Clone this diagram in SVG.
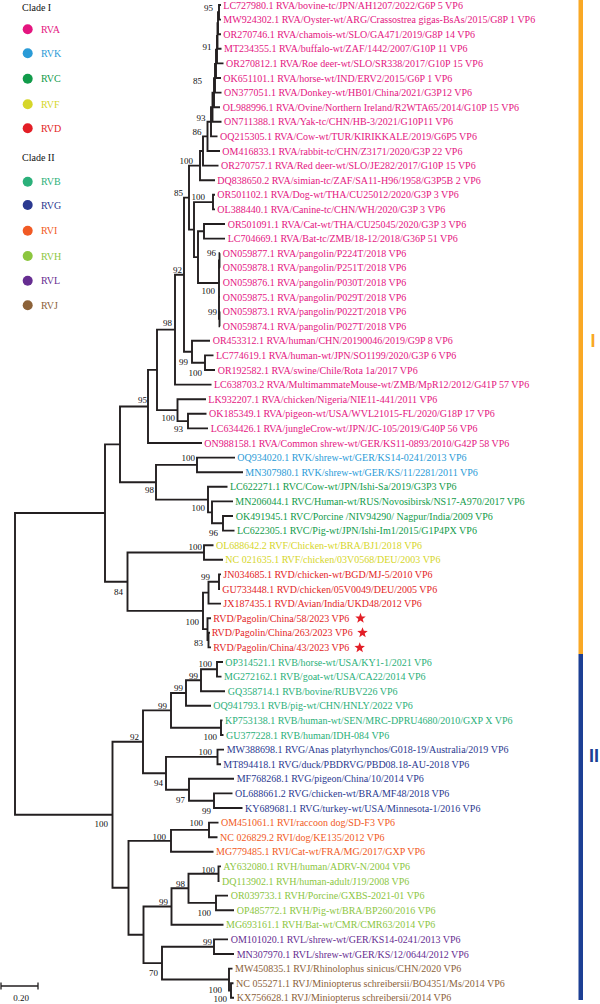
<svg xmlns="http://www.w3.org/2000/svg" width="600" height="1004" viewBox="0 0 600 1004">
<style>
.t{font-family:"Liberation Serif","Times New Roman",serif;font-size:10px}
.bs{font-family:"Liberation Serif","Times New Roman",serif;font-size:9px;fill:#111;text-anchor:end}
.lg{font-family:"Liberation Serif","Times New Roman",serif;font-size:10px}
.br{fill:none;stroke:#231f20;stroke-width:1.9;stroke-linejoin:miter}
.A{fill:#e4157f}.K{fill:#2a9bd7}.C{fill:#119b4a}.F{fill:#d6d62a}.D{fill:#e31e26}
.B{fill:#2bb07a}.G{fill:#2b3990}.I{fill:#f15a24}.H{fill:#8cc63f}.L{fill:#662d91}.J{fill:#8c6239}
</style>
<defs>
<path id="star" d="M0,-5.5 L1.35,-1.86 L5.23,-1.7 L2.19,0.71 L3.23,4.45 L0,2.3 L-3.23,4.45 L-2.19,0.71 L-5.23,-1.7 L-1.35,-1.86 Z" fill="#e31e26"/>
</defs>
<rect width="600" height="1004" fill="#fff"/>
<g id="legend">
<text class="lg" x="22" y="11" fill="#111">Clade I</text>
<circle class="A" cx="27.7" cy="29.3" r="5"/><text class="lg A" x="41" y="32.8">RVA</text>
<circle class="K" cx="27.7" cy="53.3" r="5"/><text class="lg K" x="41" y="56.8">RVK</text>
<circle class="C" cx="27.7" cy="78.7" r="5"/><text class="lg C" x="41" y="82.2">RVC</text>
<circle class="F" cx="27.7" cy="104.3" r="5"/><text class="lg F" x="41" y="107.8">RVF</text>
<circle class="D" cx="27.7" cy="128.3" r="5"/><text class="lg D" x="41" y="131.8">RVD</text>
<text class="lg" x="22" y="161.2" fill="#111">Clade II</text>
<circle class="B" cx="27.7" cy="181.7" r="5"/><text class="lg B" x="41" y="185.2">RVB</text>
<circle class="G" cx="27.7" cy="205" r="5"/><text class="lg G" x="41" y="208.5">RVG</text>
<circle class="I" cx="27.7" cy="230.7" r="5"/><text class="lg I" x="41" y="234.2">RVI</text>
<circle class="H" cx="27.7" cy="256" r="5"/><text class="lg H" x="41" y="259.5">RVH</text>
<circle class="L" cx="27.7" cy="280.7" r="5"/><text class="lg L" x="41" y="284.2">RVL</text>
<circle class="J" cx="27.7" cy="305.3" r="5"/><text class="lg J" x="41" y="308.8">RVJ</text>
</g>
<g id="connectors" class="br">
<path d="M221,5 H219 V19.6 H221"/>
<path d="M219,12.3 H218 V34.2 H221"/>
<path d="M218,23.25 H217.5 V48.8 H221.5"/>
<path d="M217.5,36 H217 V63.4 H223.5"/>
<path d="M217,49.7 H216 V78 H221"/>
<path d="M216,63.85 H215 V92.6 H221.5"/>
<path d="M215,78.2 H214 V107.2 H220"/>
<path d="M214,92.7 H212.5 V121.8 H221.5"/>
<path d="M212.5,107.25 H211 V136.4 H217.5"/>
<path d="M211,121.8 H207.5 V151 H220"/>
<path d="M207.5,136.4 H203 V165.6 H218.5"/>
<path d="M203,151 H200 V180.2 H215"/>
<path d="M215,194.8 H213 V209.4 H215"/>
<path d="M225,224 H204 V238.6 H225"/>
<path d="M220,253.2 H219.5 V267.8 H220"/>
<path d="M220,311.6 H219.5 V326.2 H220"/>
<path d="M219.5,260.5 H219 V318.9 H219.5 M219,282.4 H220 M219,297 H220"/>
<path d="M204,231.3 H198 V283 H219"/>
<path d="M213,202.1 H194 V257.15 H198"/>
<path d="M200,165.6 H189 V229.6 H194"/>
<path d="M213.5,355.4 H205 V370 H215"/>
<path d="M210,340.8 H192 V362.7 H205"/>
<path d="M189,197.6 H184 V351.75 H192"/>
<path d="M184,274.7 H175 V384.6 H211.5"/>
<path d="M206.5,413.8 H188 V428.4 H208"/>
<path d="M206,399.2 H177.5 V421.1 H188"/>
<path d="M175,329.65 H157 V410.15 H177.5"/>
<path d="M157,369.9 H148 V443 H202"/>
<path d="M235,457.6 H197 V472.2 H243"/>
<path d="M233,516 H223 V530.6 H234.5"/>
<path d="M233,501.4 H212 V523.3 H223"/>
<path d="M227.5,486.8 H208 V512.35 H212"/>
<path d="M197,464.9 H156 V499.6 H208"/>
<path d="M148,406.45 H120 V482.25 H156"/>
<path d="M213.5,545.2 H204 V559.8 H223"/>
<path d="M221,574.4 H219 V589 H220"/>
<path d="M219,581.7 H208.5 V603.6 H221"/>
<path d="M210,632.8 H208.5 V647.4 H211"/>
<path d="M211,618.2 H207.5 V640.1 H208.5"/>
<path d="M208.5,592.65 H203 V629.15 H207.5"/>
<path d="M204,552.5 H127.5 V610.9 H203"/>
<path d="M120,444.35 H105 V581.7 H127.5"/>
<path d="M105,513 H15 V814.8 H112.5"/>
<path d="M223,662 H217 V676.6 H221.5"/>
<path d="M217,669.3 H201 V691.2 H225"/>
<path d="M201,680.25 H186 V705.8 H211"/>
<path d="M222.5,720.4 H221 V735 H223.5"/>
<path d="M186,693 H171 V727.7 H221"/>
<path d="M224,749.6 H217.5 V764.2 H221"/>
<path d="M232.5,793.4 H214 V808 H242.5"/>
<path d="M234,778.8 H189 V800.7 H214"/>
<path d="M217.5,756.9 H166 V789.75 H189"/>
<path d="M171,710.35 H143 V773.3 H166"/>
<path d="M218.5,822.6 H209 V837.2 H217.5"/>
<path d="M209,829.9 H171 V851.8 H213.5"/>
<path d="M221,866.4 H218.5 V881 H219.5"/>
<path d="M228,895.6 H216 V910.2 H234"/>
<path d="M218.5,873.7 H188.5 V902.9 H216"/>
<path d="M188.5,888.3 H171.5 V924.8 H223.5"/>
<path d="M228,939.4 H214 V954 H234"/>
<path d="M233.5,983.2 H231 V997.8 H234"/>
<path d="M232.5,968.6 H229 V990.5 H231"/>
<path d="M214,946.7 H162 V979.55 H229"/>
<path d="M171.5,906.55 H143.5 V963.1 H162"/>
<path d="M171,840.85 H128.5 V934.8 H143.5"/>
<path d="M143,741.8 H112.5 V887.8 H128.5"/>
</g>
<g id="support">
<text class="bs" x="213" y="11">95</text>
<text class="bs" x="211.5" y="50">91</text>
<text class="bs" x="202" y="84">85</text>
<text class="bs" x="205.5" y="121">93</text>
<text class="bs" x="201.5" y="135">86</text>
<text class="bs" x="193" y="164">100</text>
<text class="bs" x="183" y="196">85</text>
<text class="bs" x="205" y="200">100</text>
<text class="bs" x="216" y="256">96</text>
<text class="bs" x="215" y="294">100</text>
<text class="bs" x="217" y="315">99</text>
<text class="bs" x="182" y="273">92</text>
<text class="bs" x="172" y="326">98</text>
<text class="bs" x="188" y="365">99</text>
<text class="bs" x="202" y="376">100</text>
<text class="bs" x="147" y="403">95</text>
<text class="bs" x="175" y="421">100</text>
<text class="bs" x="183" y="432">93</text>
<text class="bs" x="195" y="461">100</text>
<text class="bs" x="154" y="493">98</text>
<text class="bs" x="205" y="511">100</text>
<text class="bs" x="218" y="536">96</text>
<text class="bs" x="202" y="550">100</text>
<text class="bs" x="210" y="580">99</text>
<text class="bs" x="199" y="625">100</text>
<text class="bs" x="203" y="646">83</text>
<text class="bs" x="123" y="595">84</text>
<text class="bs" x="108" y="827">100</text>
<text class="bs" x="139" y="740">92</text>
<text class="bs" x="167" y="709">99</text>
<text class="bs" x="183" y="691">99</text>
<text class="bs" x="198" y="679">99</text>
<text class="bs" x="212" y="667">100</text>
<text class="bs" x="217" y="740">100</text>
<text class="bs" x="212" y="755">100</text>
<text class="bs" x="163" y="786">94</text>
<text class="bs" x="185" y="803">97</text>
<text class="bs" x="211" y="814">99</text>
<text class="bs" x="203" y="826">100</text>
<text class="bs" x="166" y="840">100</text>
<text class="bs" x="215" y="873">100</text>
<text class="bs" x="185" y="887">98</text>
<text class="bs" x="211" y="916">100</text>
<text class="bs" x="168" y="905">99</text>
<text class="bs" x="212" y="945">99</text>
<text class="bs" x="158" y="976">70</text>
<text class="bs" x="222" y="993">100</text>
<text class="bs" x="227" y="1002">100</text>
</g>
<g id="leaves" class="t">
<g id="n01"><text class="A" x="223.3" y="8.5">LC727980.1 RVA/bovine-tc/JPN/AH1207/2022/G6P 5 VP6</text></g>
<g id="n02"><text class="A" x="223.3" y="23.1">MW924302.1 RVA/Oyster-wt/ARG/Crassostrea gigas-BsAs/2015/G8P 1 VP6</text></g>
<g id="n03"><text class="A" x="223.3" y="37.7">OR270746.1 RVA/chamois-wt/SLO/GA471/2019/G8P 14 VP6</text></g>
<g id="n04"><text class="A" x="224" y="52.3">MT234355.1 RVA/buffalo-wt/ZAF/1442/2007/G10P 11 VP6</text></g>
<g id="n05"><text class="A" x="226" y="66.9">OR270812.1 RVA/Roe deer-wt/SLO/SR338/2017/G10P 15 VP6</text></g>
<g id="n06"><text class="A" x="223.3" y="81.5">OK651101.1 RVA/horse-wt/IND/ERV2/2015/G6P 1 VP6</text></g>
<g id="n07"><text class="A" x="224" y="96.1">ON377051.1 RVA/Donkey-wt/HB01/China/2021/G3P12 VP6</text></g>
<g id="n08"><text class="A" x="222.7" y="110.7">OL988996.1 RVA/Ovine/Northern Ireland/R2WTA65/2014/G10P 15 VP6</text></g>
<g id="n09"><text class="A" x="224" y="125.3">ON711388.1 RVA/Yak-tc/CHN/HB-3/2021/G10P11 VP6</text></g>
<g id="n10"><text class="A" x="220" y="139.9">OQ215305.1 RVA/Cow-wt/TUR/KIRIKKALE/2019/G6P5 VP6</text></g>
<g id="n11"><text class="A" x="222.3" y="154.5">OM416833.1 RVA/rabbit-tc/CHN/Z3171/2020/G3P 22 VP6</text></g>
<g id="n12"><text class="A" x="221" y="169.1">OR270757.1 RVA/Red deer-wt/SLO/JE282/2017/G10P 15 VP6</text></g>
<g id="n13"><text class="A" x="217.3" y="183.7">DQ838650.2 RVA/simian-tc/ZAF/SA11-H96/1958/G3P5B 2 VP6</text></g>
<g id="n14"><text class="A" x="217.3" y="198.3">OR501102.1 RVA/Dog-wt/THA/CU25012/2020/G3P 3 VP6</text></g>
<g id="n15"><text class="A" x="217.3" y="212.9">OL388440.1 RVA/Canine-tc/CHN/WH/2020/G3P 3 VP6</text></g>
<g id="n16"><text class="A" x="227.7" y="227.5">OR501091.1 RVA/Cat-wt/THA/CU25045/2020/G3P 3 VP6</text></g>
<g id="n17"><text class="A" x="227.7" y="242.1">LC704669.1 RVA/Bat-tc/ZMB/18-12/2018/G36P 51 VP6</text></g>
<g id="n18"><text class="A" x="222.7" y="256.7">ON059877.1 RVA/pangolin/P224T/2018 VP6</text></g>
<g id="n19"><text class="A" x="222.7" y="271.3">ON059878.1 RVA/pangolin/P251T/2018 VP6</text></g>
<g id="n20"><text class="A" x="222.7" y="285.9">ON059876.1 RVA/pangolin/P030T/2018 VP6</text></g>
<g id="n21"><text class="A" x="222.7" y="300.5">ON059875.1 RVA/pangolin/P029T/2018 VP6</text></g>
<g id="n22"><text class="A" x="222.7" y="315.1">ON059873.1 RVA/pangolin/P022T/2018 VP6</text></g>
<g id="n23"><text class="A" x="222.7" y="329.7">ON059874.1 RVA/pangolin/P027T/2018 VP6</text></g>
<g id="n24"><text class="A" x="212.7" y="344.3">OR453312.1 RVA/human/CHN/20190046/2019/G9P 8 VP6</text></g>
<g id="n25"><text class="A" x="216" y="358.9">LC774619.1 RVA/human-wt/JPN/SO1199/2020/G3P 6 VP6</text></g>
<g id="n26"><text class="A" x="217.7" y="373.5">OR192582.1 RVA/swine/Chile/Rota 1a/2017 VP6</text></g>
<g id="n27"><text class="A" x="214" y="388.1">LC638703.2 RVA/MultimammateMouse-wt/ZMB/MpR12/2012/G41P 57 VP6</text></g>
<g id="n28"><text class="A" x="208.3" y="402.7">LK932207.1 RVA/chicken/Nigeria/NIE11-441/2011 VP6</text></g>
<g id="n29"><text class="A" x="209" y="417.3">OK185349.1 RVA/pigeon-wt/USA/WVL21015-FL/2020/G18P 17 VP6</text></g>
<g id="n30"><text class="A" x="210.7" y="431.9">LC634426.1 RVA/jungleCrow-wt/JPN/JC-105/2019/G40P 56 VP6</text></g>
<g id="n31"><text class="A" x="204.3" y="446.5">ON988158.1 RVA/Common shrew-wt/GER/KS11-0893/2010/G42P 58 VP6</text></g>
<g id="n32"><text class="K" x="237.3" y="461.1">OQ934020.1 RVK/shrew-wt/GER/KS14-0241/2013 VP6</text></g>
<g id="n33"><text class="K" x="245.3" y="475.7">MN307980.1 RVK/shrew-wt/GER/KS/11/2281/2011 VP6</text></g>
<g id="n34"><text class="C" x="230" y="490.3">LC622271.1 RVC/Cow-wt/JPN/Ishi-Sa/2019/G3P3 VP6</text></g>
<g id="n35"><text class="C" x="235.3" y="504.9">MN206044.1 RVC/Human-wt/RUS/Novosibirsk/NS17-A970/2017 VP6</text></g>
<g id="n36"><text class="C" x="235.7" y="519.5">OK491945.1 RVC/Porcine /NIV94290/ Nagpur/India/2009 VP6</text></g>
<g id="n37"><text class="C" x="237" y="534.1">LC622305.1 RVC/Pig-wt/JPN/Ishi-Im1/2015/G1P4PX VP6</text></g>
<g id="n38"><text class="F" x="216" y="548.7">OL688642.2 RVF/Chicken-wt/BRA/BJ1/2018 VP6</text></g>
<g id="n39"><text class="F" x="225.3" y="563.3">NC 021635.1 RVF/chicken/03V0568/DEU/2003 VP6</text></g>
<g id="n40"><text class="D" x="223.3" y="577.9">JN034685.1 RVD/chicken-wt/BGD/MJ-5/2010 VP6</text></g>
<g id="n41"><text class="D" x="222.3" y="592.5">GU733448.1 RVD/chicken/05V0049/DEU/2005 VP6</text></g>
<g id="n42"><text class="D" x="223.3" y="607.1">JX187435.1 RVD/Avian/India/UKD48/2012 VP6</text></g>
<g id="n43"><text class="D" x="213.3" y="621.7">RVD/Pagolin/China/58/2023 VP6</text><use href="#star" x="360.5" y="618.3"/></g>
<g id="n44"><text class="D" x="211.7" y="636.3">RVD/Pagolin/China/263/2023 VP6</text><use href="#star" x="362.5" y="632.7"/></g>
<g id="n45"><text class="D" x="213.3" y="650.9">RVD/Pagolin/China/43/2023 VP6</text><use href="#star" x="359.7" y="647.7"/></g>
<g id="n46"><text class="B" x="225.3" y="665.5">OP314521.1 RVB/horse-wt/USA/KY1-1/2021 VP6</text></g>
<g id="n47"><text class="B" x="224" y="680.1">MG272162.1 RVB/goat-wt/USA/CA22/2014 VP6</text></g>
<g id="n48"><text class="B" x="227.7" y="694.7">GQ358714.1 RVB/bovine/RUBV226 VP6</text></g>
<g id="n49"><text class="B" x="213.3" y="709.3">OQ941793.1 RVB/pig-wt/CHN/HNLY/2022 VP6</text></g>
<g id="n50"><text class="B" x="225" y="723.9">KP753138.1 RVB/human-wt/SEN/MRC-DPRU4680/2010/GXP X VP6</text></g>
<g id="n51"><text class="B" x="226" y="738.5">GU377228.1 RVB/human/IDH-084 VP6</text></g>
<g id="n52"><text class="G" x="226.7" y="753.1">MW388698.1 RVG/Anas platyrhynchos/G018-19/Australia/2019 VP6</text></g>
<g id="n53"><text class="G" x="223.3" y="767.7">MT894418.1 RVG/duck/PBDRVG/PBD08.18-AU-2018 VP6</text></g>
<g id="n54"><text class="G" x="236.7" y="782.3">MF768268.1 RVG/pigeon/China/10/2014 VP6</text></g>
<g id="n55"><text class="G" x="235" y="796.9">OL688661.2 RVG/chicken-wt/BRA/MF48/2018 VP6</text></g>
<g id="n56"><text class="G" x="245" y="811.5">KY689681.1 RVG/turkey-wt/USA/Minnesota-1/2016 VP6</text></g>
<g id="n57"><text class="I" x="221" y="826.1">OM451061.1 RVI/raccoon dog/SD-F3 VP6</text></g>
<g id="n58"><text class="I" x="220" y="840.7">NC 026829.2 RVI/dog/KE135/2012 VP6</text></g>
<g id="n59"><text class="I" x="216" y="855.3">MG779485.1 RVI/Cat-wt/FRA/MG/2017/GXP VP6</text></g>
<g id="n60"><text class="H" x="223.3" y="869.9">AY632080.1 RVH/human/ADRV-N/2004 VP6</text></g>
<g id="n61"><text class="H" x="222" y="884.5">DQ113902.1 RVH/human-adult/J19/2008 VP6</text></g>
<g id="n62"><text class="H" x="230.7" y="899.1">OR039733.1 RVH/Porcine/GXBS-2021-01 VP6</text></g>
<g id="n63"><text class="H" x="236.7" y="913.7">OP485772.1 RVH/Pig-wt/BRA/BP260/2016 VP6</text></g>
<g id="n64"><text class="H" x="226" y="928.3">MG693161.1 RVH/Bat-wt/CMR/CMR63/2014 VP6</text></g>
<g id="n65"><text class="L" x="230.7" y="942.9">OM101020.1 RVL/shrew-wt/GER/KS14-0241/2013 VP6</text></g>
<g id="n66"><text class="L" x="236.7" y="957.5">MN307970.1 RVL/shrew-wt/GER/KS/12/0644/2012 VP6</text></g>
<g id="n67"><text class="J" x="235" y="972.1">MW450835.1 RVJ/Rhinolophus sinicus/CHN/2020 VP6</text></g>
<g id="n68"><text class="J" x="236" y="986.7">NC 055271.1 RVJ/Miniopterus schreibersii/BO4351/Ms/2014 VP6</text></g>
<g id="n69"><text class="J" x="236.7" y="1001.3">KX756628.1 RVJ/Miniopterus schreibersii/2014 VP6</text></g>
</g>
<g id="scale">
<path d="M1,986 H38 M1,982.5 V989.5 M38,982.5 V989.5" fill="none" stroke="#231f20" stroke-width="1.3"/>
<text class="bs" x="21" y="1001" style="text-anchor:middle">0.20</text>
</g>
<g id="clades">
<rect x="578.5" y="0" width="4.5" height="654" fill="#f9a825"/>
<rect x="578.5" y="654" width="4.5" height="346" fill="#1c3f94"/>
<text x="593" y="347" fill="#f9a825" style="font-family:'Liberation Sans',Arial,sans-serif;font-size:18px;font-weight:bold;text-anchor:middle">I</text>
<text x="594" y="762" fill="#1c3f94" style="font-family:'Liberation Sans',Arial,sans-serif;font-size:18px;font-weight:bold;text-anchor:middle">II</text>
</g>
</svg>
